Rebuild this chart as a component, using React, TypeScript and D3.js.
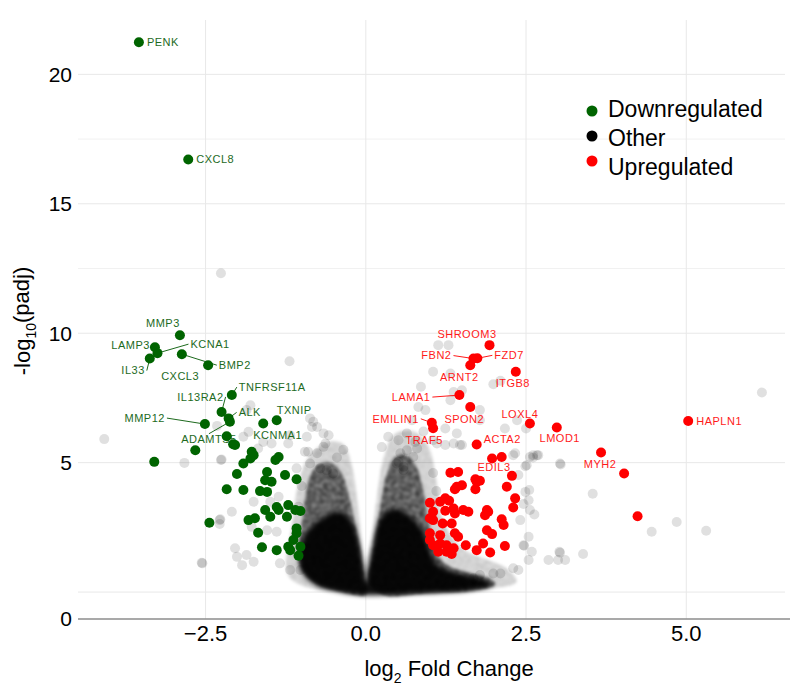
import React from 'react';
import * as d3 from 'd3';

// labelled significant genes: [gene, log2FC, -log10(padj)]
const downGenes: [string, number, number][] = [
  ['PENK', -3.54, 21.24],
  ['CXCL8', -2.77, 16.71],
  ['MMP3', -2.9, 9.92],
  ['LAMP3', -3.29, 9.46],
  ['KCNA1', -3.25, 9.23],
  ['IL33', -3.37, 9.02],
  ['BMP2', -2.87, 9.19],
  ['CXCL3', -2.46, 8.76],
  ['TNFRSF11A', -2.09, 7.61],
  ['IL13RA2', -2.25, 6.96],
  ['ALK', -2.14, 6.71],
  ['MMP12', -2.51, 6.49],
  ['ADAMTS5', -2.12, 6.58],
  ['TXNIP', -1.39, 6.64],
  ['KCNMA1', -1.6, 6.51],
];

const upGenes: [string, number, number][] = [
  ['SHROOM3', 1.93, 9.54],
  ['FBN2', 1.68, 9.02],
  ['FZD7', 1.74, 9.03],
  ['ARNT2', 1.63, 8.76],
  ['ITGB8', 2.34, 8.51],
  ['LAMA1', 1.46, 7.61],
  ['SPON2', 1.63, 7.15],
  ['EMILIN1', 1.03, 6.54],
  ['TRAF5', 1.05, 6.33],
  ['LOXL4', 2.56, 6.51],
  ['LMOD1', 2.98, 6.36],
  ['ACTA2', 1.73, 5.7],
  ['EDIL3', 1.97, 5.16],
  ['HAPLN1', 5.03, 6.61],
  ['MYH2', 3.67, 5.39],
];

// unlabelled significant genes
const downOther: [number, number][] = [
  [-3.3, 5.03], [-2.66, 5.48], [-2.44, 2.68], [-2.17, 3.97], [-2.17, 6.02], [-2.07, 5.71],
  [-2.04, 5.68], [-1.78, 5.42], [-1.75, 5.29], [-1.8, 5.16], [-1.91, 4.97], [-1.36, 5.22],
  [-1.41, 5.1], [-2.01, 4.56], [-1.54, 4.64], [-1.57, 4.32], [-1.47, 4.26], [-1.26, 4.52],
  [-1.08, 4.36], [-1.91, 3.94], [-1.65, 3.9], [-1.54, 3.87], [-1.83, 2.78], [-1.73, 2.85],
  [-1.57, 3.17], [-1.39, 3.29], [-1.36, 3.17], [-1.21, 3.36], [-1.1, 3.17], [-1.02, 3.13],
  [-1.49, 2.91], [-1.23, 2.91], [-1.68, 2.29], [-1.08, 2.46], [-1.08, 2.27], [-1.13, 2.01],
  [-1.62, 1.73], [-1.39, 1.62], [-1.21, 1.75], [-1.18, 1.62], [-1.02, 1.75], [-1.05, 1.4],
];

const upOther: [number, number][] = [
  [2.12, 5.22], [4.03, 4.58], [4.24, 2.93], [2.28, 4.49], [1.32, 4.61], [1.44, 4.64],
  [1.73, 4.26], [1.78, 4.3], [1.71, 3.97], [1.42, 4.07], [1.39, 3.97], [2.2, 4.07],
  [2.33, 3.62], [2.3, 3.27], [1.0, 3.45], [1.16, 3.49], [1.24, 3.62], [1.3, 3.53],
  [1.05, 3.1], [1.24, 3.14], [1.37, 3.23], [1.39, 3.04], [1.52, 3.17], [1.6, 3.1],
  [1.89, 3.17], [1.86, 2.97], [1.91, 3.1], [1.0, 2.85], [1.05, 2.78], [1.2, 2.65],
  [1.34, 2.65], [2.12, 2.81], [2.15, 2.59], [1.0, 2.27], [1.16, 2.2], [1.39, 2.27],
  [1.44, 2.14], [1.89, 2.39], [1.97, 2.24], [1.83, 1.88], [1.0, 2.01], [1.05, 1.81],
  [1.16, 1.88], [1.26, 1.81], [1.37, 1.69], [1.13, 1.56], [1.26, 1.56], [1.34, 1.47],
  [1.56, 1.81], [1.73, 1.62], [1.94, 1.53], [2.17, 1.78], [1.5, 4.13], [1.71, 4.36],
];

// non-significant genes outside the dense cloud
const otherPoints: [number, number][] = [
  [-2.26, 12.32], [-1.19, 8.92], [-4.08, 5.91], [-2.83, 4.99], [-2.25, 5.12], [-2.28, 2.78],
  [-2.28, 2.63], [-2.56, 1.13], [-2.32, 6.42], [-1.8, 7.22], [-1.86, 7.03], [-1.91, 6.0],
  [-1.83, 6.19], [-1.6, 5.8], [-1.68, 5.55], [-1.47, 5.74], [-0.87, 6.71], [-0.76, 6.38],
  [-0.92, 6.0], [-1.18, 6.06], [-1.21, 5.74], [-0.9, 5.42], [-0.76, 5.36], [-0.87, 4.97],
  [-0.71, 4.78], [-2.55, 1.11], [-2.27, 2.81], [-2.09, 3.1], [-2.04, 1.69], [-2.01, 1.36],
  [-1.93, 1.04], [-1.86, 1.43], [-1.75, 1.17], [-1.75, 3.49], [-1.78, 2.52], [-2.26, 5.1],
  [-1.49, 3.49], [-1.36, 3.68], [-1.54, 2.39], [-1.39, 2.33], [-1.34, 1.11], [-1.18, 0.85],
  [-1.02, 0.85], [-0.95, 5.42], [-0.66, 5.61], [-0.63, 5.74], [-0.61, 4.71], [-0.51, 4.58],
  [-1.08, 4.78], [-0.66, 6.13], [-0.58, 6.06], [-0.84, 6.38], [-0.82, 6.58],
  [0.54, 5.36], [0.64, 5.48], [0.8, 5.55], [0.74, 5.22], [0.48, 4.97], [0.59, 4.71],
  [1.05, 5.87], [1.24, 5.68], [1.37, 5.74], [1.5, 5.68], [2.3, 5.29], [2.61, 5.29],
  [2.69, 5.29], [2.51, 4.9], [2.38, 4.52], [3.03, 4.97], [2.49, 3.87], [2.54, 3.55],
  [2.56, 3.17], [2.41, 2.78], [2.54, 2.14], [2.46, 1.81], [2.54, 1.24], [2.85, 1.24],
  [3.0, 1.24], [3.11, 1.24], [3.03, 1.52], [2.38, 0.85], [2.3, 0.92], [1.99, 0.72],
  [2.1, 0.72], [1.78, 0.66], [1.68, 0.53], [1.47, 0.46], [0.51, 5.87], [0.64, 6.13],
  [0.72, 6.64], [1.42, 6.13], [1.11, 5.74], [0.51, 5.03], [1.13, 9.54], [1.29, 9.54],
  [1.05, 8.51], [1.32, 8.44], [0.86, 7.93], [1.37, 7.73], [1.5, 7.8], [1.32, 7.41],
  [1.99, 8.03], [2.1, 8.16], [1.78, 6.64], [2.17, 6.32], [2.36, 6.64], [1.47, 5.68],
  [1.78, 7.03], [0.82, 7.15], [0.93, 7.03], [1.24, 6.32], [2.33, 5.36], [2.56, 5.22],
  [2.67, 5.29], [0.77, 5.8], [0.59, 4.84], [6.18, 7.71], [3.54, 3.8], [3.04, 4.93],
  [2.55, 3.94], [2.46, 3.4], [2.63, 3.0], [4.85, 2.71], [5.31, 2.37], [4.46, 2.33],
  [2.47, 1.79], [2.59, 1.56], [3.02, 1.56], [3.39, 1.47], [2.61, 5.2], [2.49, 4.86],
  [2.5, 6.32], [-0.45, 5.2], [-0.35, 5.5], [0.25, 5.6], [0.35, 6.0], [0.9, 6.2],
  [-1.0, 4.1], [-1.05, 3.3], [1.05, 4.6], [1.1, 3.9],
];

// outlines of the over-plotted cloud of non-significant genes, by density
const cloudHalo: [number, number][][] = [
  [[-1.2, 0.6], [-1.15, 2.6], [-1.05, 4.2], [-0.9, 5.2], [-0.6, 5.8], [-0.35, 5.7],
    [-0.22, 4.9], [-0.12, 3.3], [-0.06, 1.8], [-0.02, 0.6], [-0.5, 0.05]],
  [[0.03, 0.6], [0.1, 2.2], [0.18, 3.8], [0.28, 5.2], [0.45, 6.1], [0.75, 6.2],
    [0.98, 5.6], [1.1, 4.3], [1.2, 2.8], [1.5, 1.7], [2.2, 0.9], [2.35, 0.4],
    [1.7, 0.08], [0.5, -0.04]],
];
const cloudMid: [number, number][][] = [
  [[0.0, -0.1], [-0.35, 0.0], [-0.75, 0.3], [-1.0, 0.9], [-1.05, 1.6], [-1.0, 2.6],
    [-0.95, 3.6], [-0.88, 4.4], [-0.75, 4.9], [-0.55, 5.0], [-0.38, 4.6], [-0.27, 3.8],
    [-0.18, 2.8], [-0.1, 1.8], [-0.04, 0.9], [0.0, 0.4]],
  [[0.04, 0.4], [0.09, 1.2], [0.16, 2.3], [0.24, 3.5], [0.32, 4.5], [0.45, 5.2],
    [0.62, 5.3], [0.78, 4.9], [0.88, 4.1], [0.95, 3.2], [1.02, 2.2], [1.1, 1.5],
    [1.3, 1.0], [1.6, 0.75], [1.9, 0.55], [2.02, 0.33], [1.8, 0.1], [1.0, -0.02],
    [0.3, -0.12]],
];
const cloudCore: [number, number][] = [
  [0.0, -0.12], [-0.4, 0.0], [-0.8, 0.3], [-1.0, 0.8], [-1.04, 1.5], [-0.92, 2.3],
  [-0.65, 2.9], [-0.4, 3.1], [-0.22, 2.7], [-0.11, 1.9], [-0.04, 0.9], [0.0, 0.35],
  [0.04, 0.9], [0.12, 1.9], [0.22, 2.8], [0.4, 3.2], [0.65, 3.0], [0.88, 2.4],
  [1.0, 1.6], [1.12, 1.05], [1.45, 0.72], [1.85, 0.48], [1.98, 0.27], [1.6, 0.06],
  [0.8, -0.05],
];

const xTicks = [-2.5, 0, 2.5, 5];
const yTicks = [5, 10, 15, 20];
const yGrid = [0, 5, 10, 12.5, 15, 17.5, 20];
const legendItems = [
  { name: 'Downregulated', color: '#006400' },
  { name: 'Other', color: '#000000' },
  { name: 'Upregulated', color: '#ff0000' },
];

// label placement: offset of the text anchor from the point (px), anchor, leader line
const labelPos: Record<string, [number, number, string, boolean]> = {
  PENK: [8, 0, 'start', false],
  CXCL8: [8, 0, 'start', false],
  MMP3: [-17, -12, 'middle', false],
  LAMP3: [-5, -2, 'end', false],
  KCNA1: [33, -9, 'start', true],
  IL33: [-5, 12, 'end', true],
  BMP2: [37, 11, 'start', true],
  CXCL3: [-9, 11, 'end', false],
  TNFRSF11A: [7, -8, 'start', true],
  IL13RA2: [2, -15, 'end', true],
  ALK: [10, -6, 'start', true],
  MMP12: [-40, -6, 'end', true],
  ADAMTS5: [-21, 17, 'middle', true],
  TXNIP: [0, -10, 'start', false],
  KCNMA1: [-10, 12, 'start', false],
  SHROOM3: [7, -11, 'end', false],
  FBN2: [-22, -3, 'end', true],
  FZD7: [17, -3, 'start', true],
  ARNT2: [-11, 12, 'middle', false],
  ITGB8: [-3, 11, 'middle', false],
  LAMA1: [-29, 2, 'end', true],
  SPON2: [-6, 12, 'middle', false],
  EMILIN1: [-13, -4, 'end', true],
  TRAF5: [-9, 12, 'middle', false],
  LOXL4: [-10, -9, 'middle', false],
  LMOD1: [3, 11, 'middle', false],
  ACTA2: [7, -5, 'start', false],
  EDIL3: [2, 9, 'middle', false],
  HAPLN1: [8, 0, 'start', false],
  MYH2: [-1, 12, 'middle', false],
};

const W = 790, H = 685;
const x = d3.scaleLinear().domain([-4.49, 6.54]).range([78, 785]);
const y = d3.scaleLinear().domain([-1.04, 22.1]).range([619, 20]);
const font = 'Liberation Sans, Arial, sans-serif';
const GREEN = '#006400';
const RED = '#ff0000';

const cloudPath = d3.line<[number, number]>()
  .x(d => x(d[0]))
  .y(d => y(d[1]))
  .curve(d3.curveCatmullRomClosed.alpha(0.5));

function Labels({ genes, color }: { genes: [string, number, number][]; color: string }) {
  return (
    <g>
      {genes.map(([g, lfc, nlp]) => {
        const [dx, dy, anchor, line] = labelPos[g];
        const px = x(lfc), py = y(nlp);
        const tx = px + dx, ty = py + dy;
        let lx = tx, ly = ty;
        if (anchor === 'start') lx = tx - 2;
        if (anchor === 'end') lx = tx + 2;
        if (anchor === 'middle') ly = ty + (dy > 0 ? -5 : 5);
        return (
          <g key={g}>
            {line && <line x1={px} y1={py} x2={lx} y2={ly} stroke={color} strokeWidth={1} />}
            <text x={tx} y={ty} dy="0.35em" textAnchor={anchor as any} fill={color}
              fontSize={11} letterSpacing={0.5} fontFamily={font}>{g}</text>
          </g>
        );
      })}
    </g>
  );
}

export default function App() {
  return (
    <svg width={W} height={H} style={{ position: 'absolute', left: 0, top: 0, background: '#fff' }}>
      <defs>
        <filter id="soft" x="-20%" y="-20%" width="140%" height="140%">
          <feGaussianBlur stdDeviation="2.5" />
        </filter>
        <filter id="grain" x="-20%" y="-20%" width="140%" height="140%">
          <feTurbulence type="fractalNoise" baseFrequency="0.25" numOctaves="2" seed="3" result="n" />
          <feColorMatrix in="n" type="matrix"
            values="0 0 0 0 0  0 0 0 0 0  0 0 0 0 0  0 0 0 -0.8 1.2" result="na" />
          <feComposite in="SourceGraphic" in2="na" operator="in" result="g" />
          <feGaussianBlur in="g" stdDeviation="1.4" />
        </filter>
      </defs>

      {/* grid */}
      {yGrid.map(v => (
        <line key={'gy' + v} x1={78} x2={785} y1={y(v)} y2={y(v)}
          stroke={v % 5 === 0 ? '#e8e8e8' : '#f1f1f1'} strokeWidth={1} />
      ))}
      {xTicks.map(v => (
        <line key={'gx' + v} x1={x(v)} x2={x(v)} y1={20} y2={619} stroke="#e8e8e8" strokeWidth={1} />
      ))}

      {/* non-significant genes */}
      <g filter="url(#grain)">
        {cloudHalo.map((p, i) => <path key={'h' + i} d={cloudPath(p) || ''} fill="#000" fillOpacity={0.22} />)}
        {cloudMid.map((p, i) => <path key={'m' + i} d={cloudPath(p) || ''} fill="#000" fillOpacity={0.72} />)}
      </g>
      <path d={cloudPath(cloudCore) || ''} fill="#000" fillOpacity={0.94} filter="url(#soft)" />
      {otherPoints.map((d, i) => (
        <circle key={'o' + i} cx={x(d[0])} cy={y(d[1])} r={5} fill="#000" fillOpacity={0.12} />
      ))}

      <Labels genes={downGenes} color="#1d6a1d" />
      <Labels genes={upGenes} color="#ff1a1a" />

      {downOther.concat(downGenes.map(d => [d[1], d[2]] as [number, number])).map((d, i) => (
        <circle key={'d' + i} cx={x(d[0])} cy={y(d[1])} r={5} fill={GREEN} />
      ))}
      {upOther.concat(upGenes.map(d => [d[1], d[2]] as [number, number])).map((d, i) => (
        <circle key={'u' + i} cx={x(d[0])} cy={y(d[1])} r={5} fill={RED} />
      ))}

      {/* axes */}
      <line x1={78} x2={790} y1={619} y2={619} stroke="#8c8c8c" strokeWidth={1.5} />
      <text x={72} y={619} dy="0.35em" textAnchor="end" fontSize={21} fontFamily={font}>0</text>
      {yTicks.map(v => (
        <text key={'yt' + v} x={72} y={y(v)} dy="0.35em" textAnchor="end" fontSize={21} fontFamily={font}>{v}</text>
      ))}
      {xTicks.map(v => (
        <text key={'xt' + v} x={x(v)} y={633} dy="0.35em" textAnchor="middle" fontSize={22} fontFamily={font}>
          {d3.format('.1f')(v)}
        </text>
      ))}
      <text x={449} y={668} dy="0.35em" textAnchor="middle" fontSize={22} fontFamily={font}>
        log<tspan fontSize={14} dy="0.5em">2</tspan><tspan dy="-0.3em"> Fold Change</tspan>
      </text>
      <text transform="translate(22,321) rotate(-90)" dy="0.35em" textAnchor="middle" fontSize={22} fontFamily={font}>
        -log<tspan fontSize={14} dy="0.45em">10</tspan><tspan dy="-0.3em">(padj)</tspan>
      </text>

      {/* legend */}
      {legendItems.map((it, i) => (
        <g key={it.name}>
          <circle cx={592} cy={111 + i * 25} r={5.5} fill={it.color} />
          <text x={608} y={109 + i * 29} dy="0.35em" fontSize={23} fontFamily={font}>{it.name}</text>
        </g>
      ))}
    </svg>
  );
}
